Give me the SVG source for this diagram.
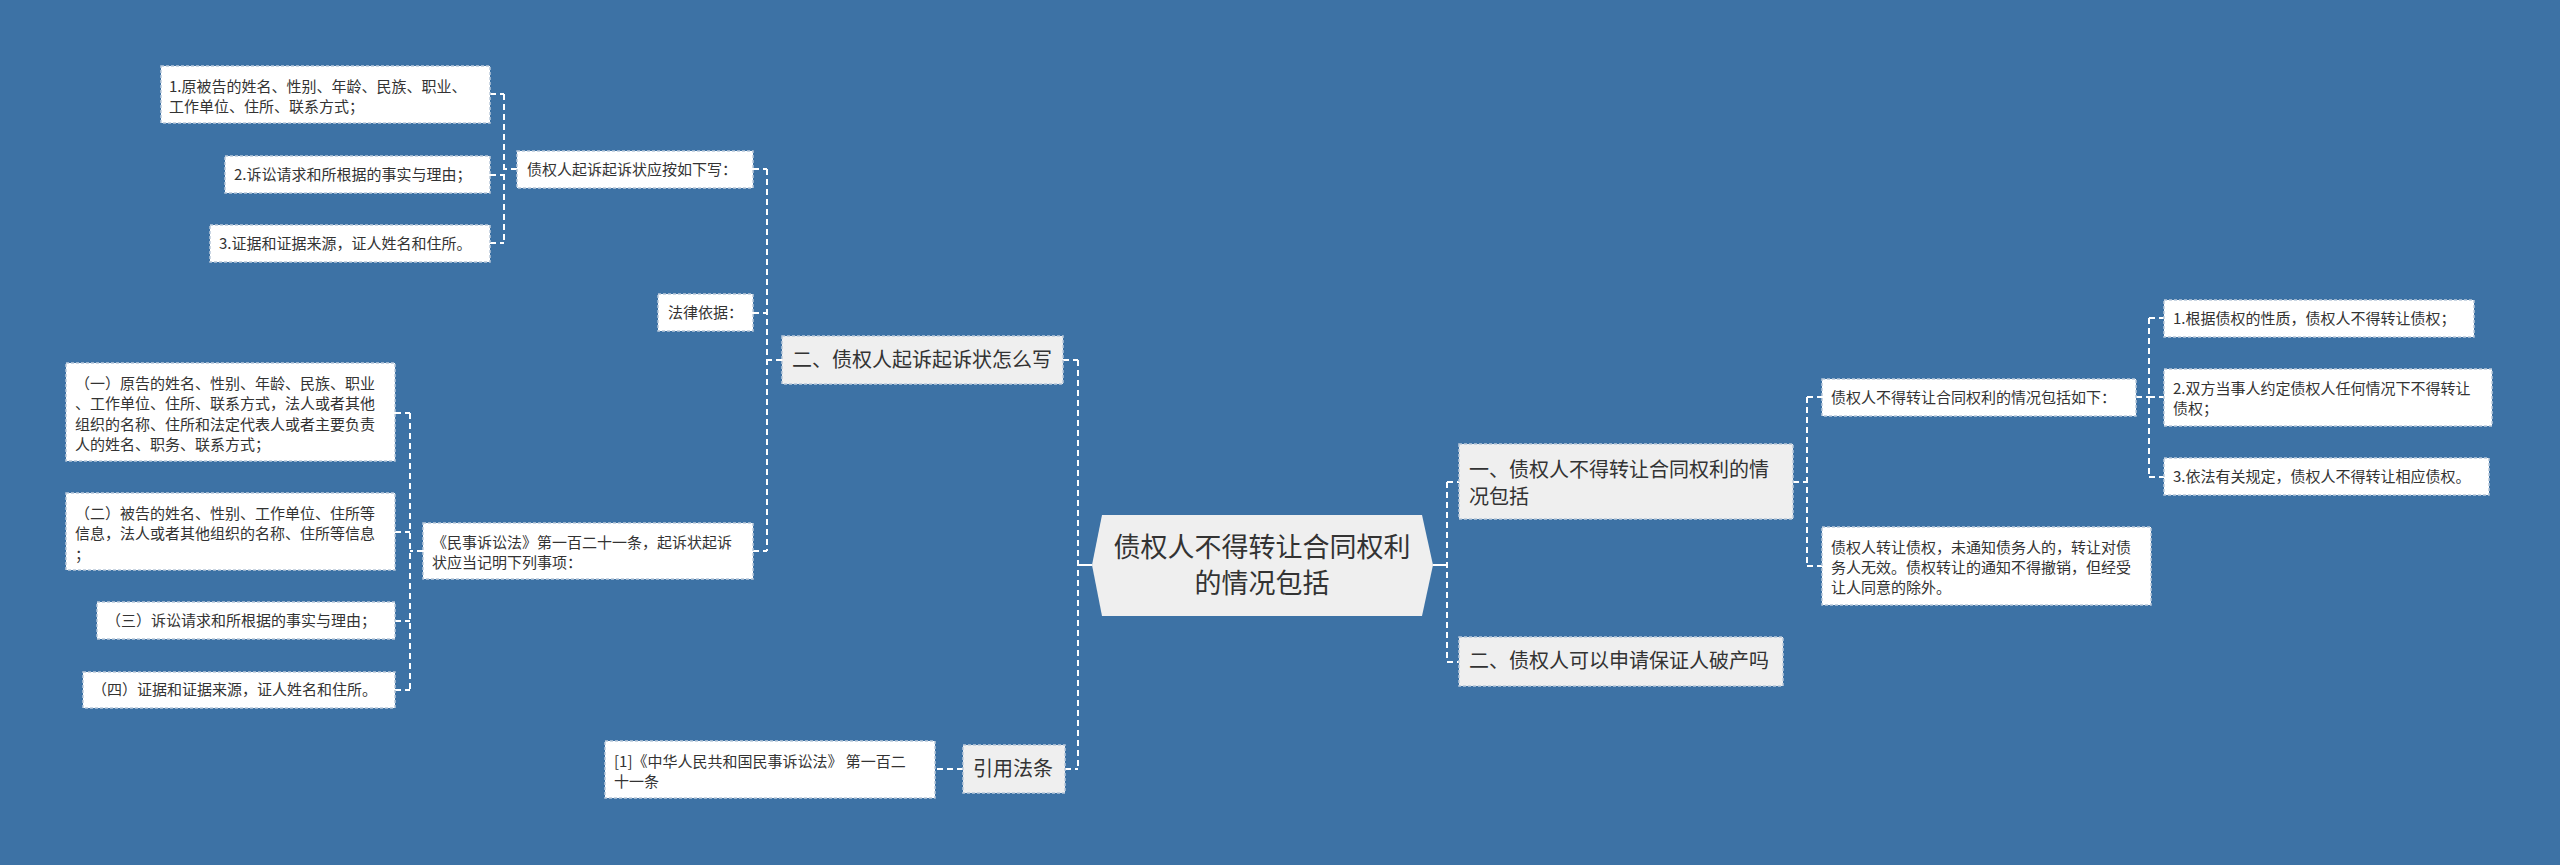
<svg xmlns="http://www.w3.org/2000/svg" width="2560" height="865" viewBox="0 0 2560 865">
<style>
text{font-family:"Noto Sans CJK SC","Noto Sans",sans-serif;fill:#333}
.leaf{fill:#ffffff;stroke:#b9c9da;stroke-width:1.5;stroke-dasharray:3 2}
.l1{fill:#efefef;stroke:#b9c9da;stroke-width:1.5;stroke-dasharray:3 2}
.t15{font-size:15px}
.t20{font-size:20px}
.t27{font-size:27px}
.con{fill:none;stroke:#ffffff;stroke-width:2;stroke-dasharray:6 4}
.solid{fill:none;stroke:#ffffff;stroke-width:2}
</style>
<rect width="2560" height="865" fill="#3d72a5"/>
<g id="connectors">
<path class="solid" d="M1092 565H1078M1433 565H1447"/>
<path class="con" d="M1078 360V769M1063 360H1078M1065 769H1078"/>
<path class="con" d="M782 360H767M767 169V551M753 169H767M753 313H767M753 551H767"/>
<path class="con" d="M517 169H504M504 94V243M490 94H504M490 175H504M490 243H504"/>
<path class="con" d="M423 551H410M410 413V690M395 413H410M395 532H410M395 621H410M395 690H410"/>
<path class="con" d="M963 769H935"/>
<path class="con" d="M1447 482V662M1447 482H1459M1447 662H1459"/>
<path class="con" d="M1793 482H1807M1807 397V566M1807 397H1822M1807 566H1822"/>
<path class="con" d="M2136 397H2149M2149 318V477M2149 318H2164M2149 397H2164M2149 477H2164"/>
</g>
<g id="root">
<polygon points="1102,515 1422,515 1433,565 1422,616 1102,616 1092,565" fill="#efefef"/>
<text class="t27" x="1262" y="557" text-anchor="middle">债权人不得转让合同权利</text>
<text class="t27" x="1262" y="593" text-anchor="middle">的情况包括</text>
</g>
<g id="n-left1">
<rect class="l1" x="782" y="336" width="281" height="48"/>
<text class="t20" x="792" y="367">二、债权人起诉起诉状怎么写</text>
</g>
<g id="n-cite">
<rect class="l1" x="963" y="745" width="102" height="48"/>
<text class="t20" x="973" y="776">引用法条</text>
</g>
<g id="n-cite-1">
<rect class="leaf" x="605" y="741" width="330" height="57"/>
<text class="t15" x="614" y="767">[1]《中华人民共和国民事诉讼法》 第一百二</text>
<text class="t15" x="614" y="787">十一条</text>
</g>
<g id="n-write">
<rect class="leaf" x="517" y="151" width="236" height="37"/>
<text class="t15" x="527" y="175">债权人起诉起诉状应按如下写：</text>
</g>
<g id="n-basis">
<rect class="leaf" x="658" y="294" width="95" height="37"/>
<text class="t15" x="668" y="318">法律依据：</text>
</g>
<g id="n-law">
<rect class="leaf" x="423" y="523" width="330" height="56"/>
<text class="t15" x="432" y="548">《民事诉讼法》第一百二十一条，起诉状起诉</text>
<text class="t15" x="432" y="568">状应当记明下列事项：</text>
</g>
<g id="n-w1">
<rect class="leaf" x="161" y="66" width="329" height="57"/>
<text class="t15" x="169" y="92">1.原被告的姓名、性别、年龄、民族、职业、</text>
<text class="t15" x="169" y="112">工作单位、住所、联系方式；</text>
</g>
<g id="n-w2">
<rect class="leaf" x="225" y="156" width="265" height="37"/>
<text class="t15" x="234" y="180">2.诉讼请求和所根据的事实与理由；</text>
</g>
<g id="n-w3">
<rect class="leaf" x="210" y="225" width="280" height="37"/>
<text class="t15" x="219" y="249">3.证据和证据来源，证人姓名和住所。</text>
</g>
<g id="n-l1">
<rect class="leaf" x="66" y="363" width="329" height="98"/>
<text class="t15" x="75" y="389">（一）原告的姓名、性别、年龄、民族、职业</text>
<text class="t15" x="75" y="409">、工作单位、住所、联系方式，法人或者其他</text>
<text class="t15" x="75" y="430">组织的名称、住所和法定代表人或者主要负责</text>
<text class="t15" x="75" y="450">人的姓名、职务、联系方式；</text>
</g>
<g id="n-l2">
<rect class="leaf" x="66" y="493" width="329" height="77"/>
<text class="t15" x="75" y="519">（二）被告的姓名、性别、工作单位、住所等</text>
<text class="t15" x="75" y="539">信息，法人或者其他组织的名称、住所等信息</text>
<text class="t15" x="75" y="560">；</text>
</g>
<g id="n-l3">
<rect class="leaf" x="97" y="602" width="298" height="37"/>
<text class="t15" x="106" y="626">（三）诉讼请求和所根据的事实与理由；</text>
</g>
<g id="n-l4">
<rect class="leaf" x="83" y="672" width="312" height="36"/>
<text class="t15" x="92" y="695">（四）证据和证据来源，证人姓名和住所。</text>
</g>
<g id="n-right1">
<rect class="l1" x="1459" y="444" width="334" height="75"/>
<text class="t20" x="1469" y="477">一、债权人不得转让合同权利的情</text>
<text class="t20" x="1469" y="504">况包括</text>
</g>
<g id="n-right2">
<rect class="l1" x="1459" y="637" width="324" height="49"/>
<text class="t20" x="1469" y="668">二、债权人可以申请保证人破产吗</text>
</g>
<g id="n-cases">
<rect class="leaf" x="1822" y="379" width="314" height="37"/>
<text class="t15" x="1831" y="403">债权人不得转让合同权利的情况包括如下：</text>
</g>
<g id="n-notice">
<rect class="leaf" x="1822" y="527" width="329" height="78"/>
<text class="t15" x="1831" y="553">债权人转让债权，未通知债务人的，转让对债</text>
<text class="t15" x="1831" y="573">务人无效。债权转让的通知不得撤销，但经受</text>
<text class="t15" x="1831" y="593">让人同意的除外。</text>
</g>
<g id="n-c1">
<rect class="leaf" x="2164" y="300" width="310" height="37"/>
<text class="t15" x="2173" y="324">1.根据债权的性质，债权人不得转让债权；</text>
</g>
<g id="n-c2">
<rect class="leaf" x="2164" y="369" width="328" height="57"/>
<text class="t15" x="2173" y="394">2.双方当事人约定债权人任何情况下不得转让</text>
<text class="t15" x="2173" y="414">债权；</text>
</g>
<g id="n-c3">
<rect class="leaf" x="2164" y="458" width="325" height="37"/>
<text class="t15" x="2173" y="482">3.依法有关规定，债权人不得转让相应债权。</text>
</g>
</svg>
